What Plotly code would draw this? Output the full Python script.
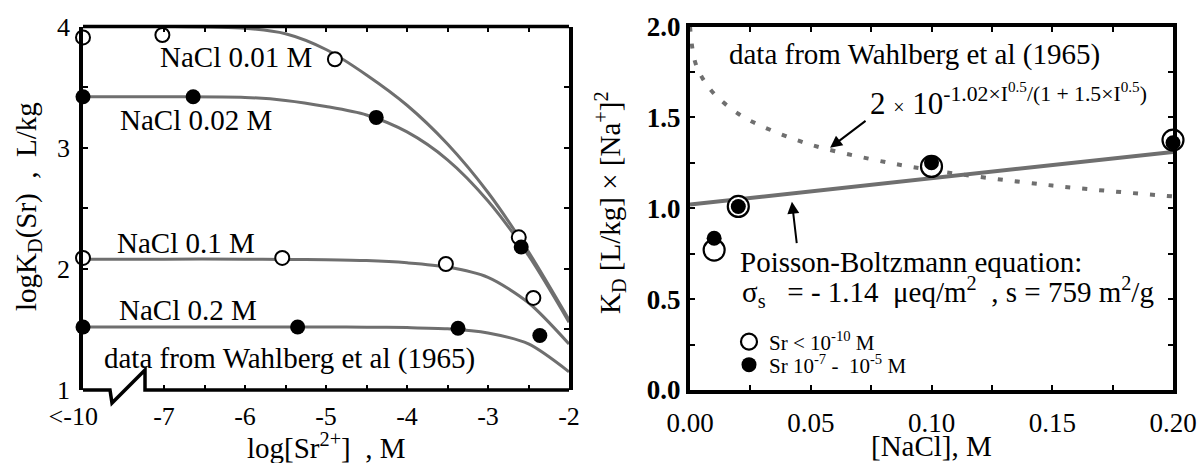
import plotly.graph_objects as go

FONT = "Liberation Serif"
GREY = "#6f6f6f"

# ---------------- Left panel data ----------------
left_tickvals = [-8, -7, -6, -5, -4, -3, -2]
left_ticktext = ["&lt;-10\u00a0\u00a0\u00a0", "-7", "-6", "-5", "-4", "-3", "-2"]
left_minor_x = [-6.5, -5.5, -4.5, -3.5, -2.5]
left_ytickvals = [1, 2, 3, 4]
left_yticktext = ["1", "2", "3", "4"]
left_minor_y = [1.5, 2.5, 3.5]

# measured points (log[Sr], logKd)
n001_x = [-8, -7.02, -4.89, -2.62]
n001_y = [3.91, 3.93, 3.73, 2.26]
n002_x = [-8, -6.64, -4.38, -2.59]
n002_y = [3.42, 3.42, 3.25, 2.18]
n01_x = [-8, -5.54, -3.52, -2.44]
n01_y = [2.09, 2.09, 2.04, 1.76]
n02_x = [-8, -5.35, -3.37, -2.36]
n02_y = [1.52, 1.52, 1.51, 1.45]

# model curves
curve_x = [-8, -7, -6, -5.5, -5, -4.5, -4, -3.5, -3, -2.5, -2]
c001_y = [4.0, 4.0, 3.985, 3.94, 3.81, 3.60, 3.35, 3.03, 2.63, 2.14, 1.58]
c002_y = [3.42, 3.42, 3.415, 3.39, 3.34, 3.27, 3.13, 2.90, 2.56, 2.11, 1.56]
c01_y = [2.08, 2.08, 2.08, 2.078, 2.075, 2.068, 2.05, 2.015, 1.93, 1.72, 1.38]
c02_y = [1.52, 1.52, 1.52, 1.52, 1.52, 1.518, 1.515, 1.505, 1.47, 1.38, 1.15]

# ---------------- Right panel data ----------------
nacl_conc = [0.01, 0.02, 0.10, 0.20]
kd_open = [0.77, 1.01, 1.23, 1.375]
kd_filled = [0.835, 1.01, 1.25, 1.36]
pb_x = [0.0, 0.2]
pb_y = [1.02, 1.31]
dav_x = [0, 0.002, 0.005, 0.01, 0.02, 0.03, 0.05, 0.075, 0.10, 0.15, 0.20]
dav_y = [2.0, 1.81, 1.72, 1.63, 1.52, 1.45, 1.35, 1.27, 1.21, 1.125, 1.065]

right_xtickvals = [0, 0.05, 0.1, 0.15, 0.2]
right_xticktext = ["0.00", "0.05", "0.10", "0.15", "0.20"]
right_minor_x = [0.025, 0.075, 0.125, 0.175]
right_ytickvals = [0, 0.5, 1.0, 1.5, 2.0]
right_yticktext = ["0.0", "0.5", "1.0", "1.5", "2.0"]
right_minor_y = [0.25, 0.75, 1.25, 1.75]

fig = go.Figure()

# left curves
for cy in [c001_y, c002_y, c01_y, c02_y]:
    fig.add_trace(go.Scatter(x=curve_x, y=cy, mode="lines", xaxis="x", yaxis="y",
                             line=dict(color=GREY, width=3, shape="spline", smoothing=0.8),
                             showlegend=False, hoverinfo="skip"))

open_left = dict(symbol="circle", size=14, color="white", line=dict(color="black", width=2))
fill_left = dict(symbol="circle", size=15, color="black", line=dict(color="black", width=0))
for xs, ys, mk in [(n001_x, n001_y, open_left), (n002_x, n002_y, fill_left),
                   (n01_x, n01_y, open_left), (n02_x, n02_y, fill_left)]:
    fig.add_trace(go.Scatter(x=xs, y=ys, mode="markers", xaxis="x", yaxis="y",
                             marker=mk, cliponaxis=False, showlegend=False))

# right lines
fig.add_trace(go.Scatter(x=dav_x, y=dav_y, mode="lines", xaxis="x2", yaxis="y2",
                         line=dict(color=GREY, width=4, dash="5px,12px", shape="spline"),
                         showlegend=False, hoverinfo="skip"))
fig.add_trace(go.Scatter(x=pb_x, y=pb_y, mode="lines", xaxis="x2", yaxis="y2",
                         line=dict(color=GREY, width=4), showlegend=False, hoverinfo="skip"))
fig.add_trace(go.Scatter(x=nacl_conc, y=kd_open, mode="markers", xaxis="x2", yaxis="y2",
                         name="Sr &lt; 10<sup>-10</sup> M", legend="legend",
                         marker=dict(symbol="circle", size=21, color="white",
                                     line=dict(color="black", width=2.2)),
                         cliponaxis=False, showlegend=True))
fig.add_trace(go.Scatter(x=nacl_conc, y=kd_filled, mode="markers", xaxis="x2", yaxis="y2",
                         name="Sr 10<sup>-7</sup>\u00a0-\u00a0\u00a010<sup>-5</sup> M", legend="legend2",
                         marker=dict(symbol="circle", size=15, color="black"),
                         cliponaxis=False, showlegend=True))

W, H = 1201, 463
ydom = [1 - 390 / H, 1 - 26.5 / H]
tickfont = dict(family=FONT, size=26, color="black")


def px_x(p):
    return p / W


def px_y(p):
    return 1 - p / H


def minor(vals):
    return dict(tickvals=vals, ticks="inside", ticklen=5, tickwidth=2, tickcolor="black", showgrid=False)


leg_common = dict(xanchor="left", yanchor="middle", bgcolor="rgba(0,0,0,0)",
                  font=dict(family=FONT, size=21, color="black"), itemsizing="trace", borderwidth=0)

fig.update_layout(
    template="none",
    width=W, height=H, margin=dict(l=0, r=0, t=0, b=0, autoexpand=False),
    paper_bgcolor="white", plot_bgcolor="white",
    font=dict(family=FONT, size=26, color="black"),
    xaxis=dict(domain=[83 / W, 569 / W], range=[-8, -2], anchor="y", automargin=False,
               showline=False, mirror="ticks", ticks="inside", ticklen=5, tickwidth=2,
               tickcolor="black", tickmode="array", tickvals=left_tickvals, ticktext=left_ticktext,
               minor=minor(left_minor_x), ticklabelstandoff=8,
               tickfont=tickfont, showgrid=False, zeroline=False),
    yaxis=dict(domain=ydom, range=[1, 4], anchor="x", automargin=False,
               showline=True, linewidth=3.5, linecolor="black", mirror="ticks",
               ticks="inside", ticklen=5, tickwidth=2, tickcolor="black",
               tickmode="array", tickvals=left_ytickvals, ticktext=left_yticktext,
               minor=minor(left_minor_y), ticklabelstandoff=4,
               tickfont=tickfont, showgrid=False, zeroline=False),
    xaxis2=dict(domain=[690 / W, 1173 / W], range=[0, 0.2], anchor="y2", automargin=False,
                showline=True, linewidth=4, linecolor="black", mirror="ticks",
                ticks="inside", ticklen=5, tickwidth=2, tickcolor="black",
                tickmode="array", tickvals=right_xtickvals, ticktext=right_xticktext,
                minor=minor(right_minor_x), ticklabelstandoff=6,
                tickfont=dict(family=FONT, size=27, color="black"),
                showgrid=False, zeroline=False),
    yaxis2=dict(domain=ydom, range=[0, 2], anchor="x2", automargin=False,
                showline=True, linewidth=4, linecolor="black", mirror="ticks",
                ticks="inside", ticklen=5, tickwidth=2, tickcolor="black",
                tickmode="array", tickvals=right_ytickvals, ticktext=right_yticktext,
                minor=minor(right_minor_y),
                tickfont=dict(family=FONT, size=27, color="black", weight="bold"),
                showgrid=False, zeroline=False),
    legend=dict(x=px_x(729), y=px_y(342), **leg_common),
    legend2=dict(x=px_x(729), y=px_y(365), **leg_common),
    showlegend=True,
)

# left frame: top line and broken bottom axis
fig.add_shape(type="line", xref="x", yref="paper", x0=-8, x1=-2, y0=ydom[1], y1=ydom[1],
              line=dict(color="black", width=3.5), layer="above")
fig.add_shape(type="path", xref="paper", yref="paper",
              path=f"M {px_x(83)},{px_y(390)} L {px_x(110)},{px_y(390)} L {px_x(112)},{px_y(403)} "
                   f"L {px_x(145)},{px_y(370)} L {px_x(145)},{px_y(390)} L {px_x(569)},{px_y(390)}",
              line=dict(color="black", width=3.5), layer="above")

ann_font = dict(family=FONT, size=29, color="black")
left_labels = [("NaCl 0.01 M", -7.074, 3.752), ("NaCl 0.02 M", -7.568, 3.231),
               ("NaCl 0.1 M", -7.605, 2.215), ("NaCl 0.2 M", -7.58, 1.661),
               ("data from Wahlberg et al (1965)", -7.765, 1.264)]
for t, x, y in left_labels:
    fig.add_annotation(text=t, x=x, y=y, xref="x", yref="y", xanchor="left", yanchor="middle",
                       showarrow=False, font=ann_font)

fig.add_annotation(text="data from Wahlberg et al (1965)", x=0.0153, y=1.846, xref="x2", yref="y2",
                   xanchor="left", yanchor="middle", showarrow=False, font=ann_font)
fig.add_annotation(text="2\u00a0<span style='font-size:20px'>×</span>\u00a010<sup>-1.02×I<sup>0.5</sup>/(1 + 1.5×I<sup>0.5</sup>)</sup>",
                   x=0.0737, y=1.60, xref="x2", yref="y2",
                   xanchor="left", yanchor="middle", showarrow=False, font=dict(family=FONT, size=31, color="black"))
fig.add_annotation(text="Poisson-Boltzmann equation:", x=0.0199, y=0.705, xref="x2", yref="y2",
                   xanchor="left", yanchor="middle", showarrow=False, font=ann_font)
fig.add_annotation(text="σ<sub>s</sub>\u00a0\u00a0\u00a0=\u00a0-\u00a01.14\u00a0\u00a0μeq/m<sup>2</sup>\u00a0\u00a0,\u00a0s\u00a0=\u00a0759\u00a0m<sup>2</sup>/g",
                   x=0.0207, y=0.54, xref="x2", yref="y2",
                   xanchor="left", yanchor="middle", showarrow=False, font=ann_font)

# arrows
fig.add_annotation(x=0.058, y=1.333, xref="x2", yref="y2", ax=37, ay=-28, text="",
                   showarrow=True, arrowhead=2, arrowsize=1.2, arrowwidth=2, arrowcolor="black")
fig.add_annotation(x=0.0422, y=1.036, xref="x2", yref="y2", ax=5, ay=43, text="",
                   showarrow=True, arrowhead=2, arrowsize=1.2, arrowwidth=2, arrowcolor="black")

# axis titles
title_common = dict(xref="paper", yref="paper", xanchor="center", yanchor="middle",
                    showarrow=False, font=ann_font)
fig.add_annotation(text="logK<sub>D</sub>(Sr)\u00a0\u00a0,\u00a0\u00a0L/kg", x=px_x(28), y=px_y(207),
                   textangle=-90, **title_common)
fig.add_annotation(text="log[Sr<sup>2+</sup>]\u00a0\u00a0,\u00a0M", x=px_x(327), y=px_y(446),
                   **title_common)
fig.add_annotation(text="K<sub>D</sub>\u00a0[L/kg]\u00a0×\u00a0[Na<sup>+</sup>]<sup>2</sup>", x=px_x(610), y=px_y(203),
                   textangle=-90, **title_common)
fig.add_annotation(text="[NaCl], M", x=px_x(931), y=px_y(446), **title_common)

fig.write_html("out.html", config={"displayModeBar": False},
               post_script="document.body.style.margin='0px';document.body.style.overflow='hidden';")
